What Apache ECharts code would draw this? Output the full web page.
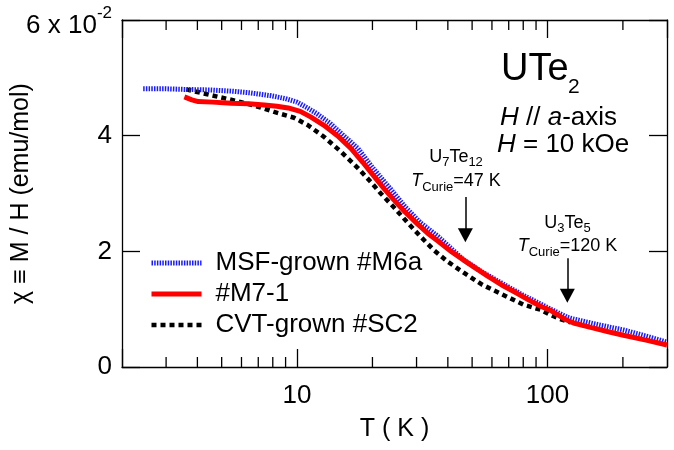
<!DOCTYPE html>
<html><head><meta charset="utf-8">
<script src="https://cdn.jsdelivr.net/npm/echarts@6/dist/echarts.min.js"></script>
<style>html,body{margin:0;padding:0;background:#fff}#c{width:674px;height:450px}</style>
</head><body><div id="c"></div>
<script>
const FONT = '"Liberation Sans", Arial, Helvetica, sans-serif';

// chi values are in units of 10^-2 emu/mol
const seriesNames = ['MSF-grown #M6a', '#M7-1', 'CVT-grown #SC2'];

const msfT   = [2.43, 3.0, 3.55, 4.5, 5.46, 6.5, 7.88, 9.0, 10.0, 11.0, 12.0, 13.5, 15.0, 17.5, 20.0, 23.7, 27.0, 31.0, 36.5, 41.0, 46.3, 55, 66.8, 80, 93.8, 103, 110, 120, 127, 160, 201, 250, 300];
const msfChi = [4.81, 4.81, 4.80, 4.79, 4.77, 4.74, 4.69, 4.64, 4.58, 4.48, 4.38, 4.22, 4.04, 3.78, 3.45, 3.07, 2.77, 2.50, 2.26, 2.06, 1.85, 1.64, 1.43, 1.24, 1.09, 1.00, 0.94, 0.86, 0.83, 0.73, 0.64, 0.53, 0.43];

const m71T   = [3.55, 3.8, 4.03, 4.6, 5.46, 6.4, 7.39, 8.3, 9.21, 10.3, 11.37, 12.81, 14.5, 16.41, 18.3, 20.27, 22.3, 24.35, 27.0, 30.3, 33.3, 36.5, 41.5, 48, 57.7, 66.8, 75.9, 84, 93.8, 102.8, 110, 118, 127, 150, 175, 201, 250, 300];
const m71Chi = [4.67, 4.62, 4.59, 4.58, 4.56, 4.55, 4.53, 4.51, 4.48, 4.42, 4.32, 4.18, 4.00, 3.78, 3.54, 3.30, 3.08, 2.89, 2.68, 2.47, 2.31, 2.18, 1.99, 1.80, 1.57, 1.40, 1.27, 1.16, 1.05, 0.98, 0.90, 0.82, 0.76, 0.68, 0.61, 0.55, 0.46, 0.38];

const cvtT   = [3.61, 4.54, 5.98, 7.0, 8.1, 9.73, 11.06, 12.81, 15.0, 17.5, 19.5, 21.6, 24.5, 27.7, 31.2, 35.2, 40, 46.3, 55, 69.3, 80, 93.8, 102.8, 112, 124];
const cvtChi = [4.80, 4.70, 4.58, 4.50, 4.41, 4.31, 4.18, 3.98, 3.72, 3.44, 3.22, 3.00, 2.75, 2.49, 2.25, 2.02, 1.82, 1.63, 1.42, 1.21, 1.08, 0.99, 0.90, 0.83, 0.77];

const xMinorTicks = [3, 4, 5, 6, 7, 8, 9, 20, 30, 40, 50, 60, 70, 80, 90, 200];
const yTickLabels = ['0', '2', '4', '6 x 10'];

const curieT = [47, 120];
const curieArrowTop = [2.94, 1.88];
const curieArrowHead = [2.28, 1.23];

const zip = (a, b) => a.map((v, i) => [v, b[i]]);
const chart = echarts.init(document.getElementById('c'), null, {renderer: 'canvas'});

const axisLineStyle = {color: '#000', width: 1.3};
const baseX = {
  type: 'log', logBase: 10, min: 2, max: 300,
  axisLine: {show: true, onZero: false, lineStyle: axisLineStyle},
  axisTick: {show: true, inside: true, length: 18, lineStyle: axisLineStyle},
  splitLine: {show: false}, minorTick: {show: false}
};
const baseY = {
  type: 'value', min: 0, max: 6, interval: 2,
  axisLine: {show: true, onZero: false, lineStyle: axisLineStyle},
  axisTick: {show: true, inside: true, length: 18, lineStyle: axisLineStyle},
  splitLine: {show: false}
};

const option = {
  animation: false,
  backgroundColor: '#fff',
  textStyle: {fontFamily: FONT, color: '#000'},
  grid: {left: 122, right: 7, top: 20, bottom: 83, containLabel: false, outerBoundsMode: 'none'},
  legend: {
    data: seriesNames, orient: 'vertical', left: 144, top: 245,
    itemWidth: 50, itemHeight: 14, itemGap: 5, selectedMode: false,
    lineStyle: {width: 'inherit'},
    itemStyle: {opacity: 0},
    textStyle: {fontSize: 26, color: '#000', fontFamily: FONT, padding: [0, 0, 0, 9]}
  },
  xAxis: [
    Object.assign({}, baseX, {
      position: 'bottom',
      axisLabel: {
        margin: 16, fontSize: 26, color: '#000', fontFamily: FONT,
        formatter: v => { const l = Math.log10(v); return Math.abs(l - Math.round(l)) < 1e-6 ? String(Math.round(v)) : ''; }
      },
      name: 'T ( K )', nameLocation: 'middle', nameGap: 50, nameMoveOverlap: false,
      nameTextStyle: {fontSize: 25, color: '#000', fontFamily: FONT}
    }),
    Object.assign({}, baseX, {position: 'top', axisLabel: {show: false}})
  ],
  yAxis: [
    Object.assign({}, baseY, {
      position: 'left',
      axisLabel: {
        margin: 10, fontSize: 26, color: '#000', fontFamily: FONT,
        formatter: v => { const i = Math.round(v / 2); return i === 3 ? '{m|' + yTickLabels[i] + '}{sup|-2}' : yTickLabels[i]; },
        rich: {
          m: {fontSize: 26, fontFamily: FONT, color: '#000', padding: [12, 0, 0, 0]},
          sup: {fontSize: 17, fontFamily: FONT, color: '#000', padding: [0, 0, 13, 0]}
        }
      },
      name: 'χ ≡ M / H (emu/mol)', nameLocation: 'middle', nameGap: 88, nameMoveOverlap: false,
      nameTextStyle: {fontSize: 25, color: '#000', fontFamily: FONT}
    }),
    Object.assign({}, baseY, {position: 'right', axisLabel: {show: false}})
  ],
  series: [
    {
      name: seriesNames[2], type: 'line', data: zip(cvtT, cvtChi), showSymbol: false, symbol: 'none',
      lineStyle: {color: '#000', width: 4.5, type: [5, 4]}, itemStyle: {color: '#000'}
    },
    {
      name: seriesNames[0], type: 'line', data: zip(msfT, msfChi), showSymbol: false, symbol: 'none',
      lineStyle: {color: '#1a1aff', width: 5, type: [1.5, 1.2]}, itemStyle: {color: '#1a1aff'}
    },
    {
      name: seriesNames[1], type: 'line', data: zip(m71T, m71Chi), showSymbol: false, symbol: 'none',
      lineStyle: {color: '#ff0000', width: 5}, itemStyle: {color: '#ff0000'}
    },
    {
      name: 'minorTicks', type: 'custom', silent: true,
      data: xMinorTicks.map(t => [t, 0]),
      renderItem: function (params, api) {
        const x = api.coord([api.value(0), 0])[0];
        const cs = params.coordSys;
        const st = {stroke: '#000', lineWidth: 1.3};
        return {type: 'group', children: [
          {type: 'line', shape: {x1: x, y1: cs.y + cs.height, x2: x, y2: cs.y + cs.height - 10}, style: st},
          {type: 'line', shape: {x1: x, y1: cs.y, x2: x, y2: cs.y + 10}, style: st}
        ]};
      }
    },
    {
      name: 'arrows', type: 'line', data: [], silent: true,
      markLine: {
        silent: true, animation: false,
        lineStyle: {color: '#000', width: 1.5, type: 'solid'},
        itemStyle: {color: '#000'},
        label: {show: false},
        data: curieT.map((t, i) => [
          {coord: [t, curieArrowTop[i]], symbol: 'none'},
          {coord: [t, curieArrowHead[i]], symbol: 'triangle', symbolSize: [15, 14]}
        ])
      }
    }
  ],
  graphic: []
};
chart.setOption(option);

function txt(text, x, y, size, align, rich) {
  return {
    type: 'text', x: x, y: y, silent: true,
    style: {text: text, fontSize: size, fontFamily: FONT, fill: '#000',
      align: align, textAlign: align, verticalAlign: 'middle', textVerticalAlign: 'middle', rich: rich}
  };
}
function richSet(size, subSize, pad) {
  return {
    i: {fontSize: size, fontFamily: FONT, fontStyle: 'italic', fill: '#000'},
    s: {fontSize: subSize, fontFamily: FONT, fill: '#000', padding: [pad, 0, 0, 0]}
  };
}
chart.setOption({graphic: [
  txt('UTe', 501, 69.5, 38, 'left'),
  txt('2', 568, 87, 21, 'left'),
  txt('{i|H} // {i|a}-axis', 500, 117.5, 26, 'left', richSet(26, 16, 0)),
  txt('{i|H} = 10 kOe', 497, 145, 26, 'left', richSet(26, 16, 0)),
  txt('U{s|7}Te{s|12}', 456, 157.5, 18, 'center', richSet(18, 13, 10)),
  txt('{i|T}{s|Curie}=47 K', 456, 181, 18, 'center', richSet(18, 13, 13)),
  txt('U{s|3}Te{s|5}', 567.5, 223.5, 18, 'center', richSet(18, 13, 10)),
  txt('{i|T}{s|Curie}=120 K', 567.5, 246, 18, 'center', richSet(18, 13, 13))
]});
</script></body></html>
